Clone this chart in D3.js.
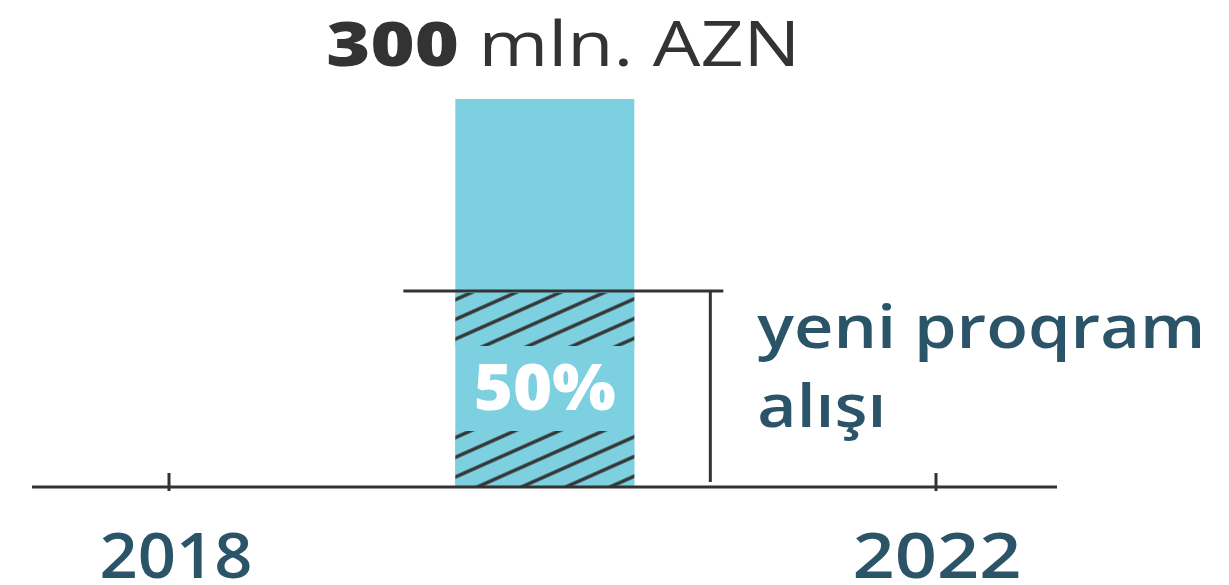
<!DOCTYPE html>
<html>
<head>
<meta charset="utf-8">
<script src="https://cdn.jsdelivr.net/npm/d3@7"></script>
<style>
  html, body { margin: 0; padding: 0; background: #fff; }
  svg { display: block; }
  text { font-family: "Open Sans", sans-serif; }
</style>
</head>
<body>
<svg id="chart" width="1229" height="585"></svg>
<script>
// ---- data ----
const years = [2018, 2022];            // axis tick labels
const barYears = [2019.96];            // bar position on the year axis
const barValues = [300];               // mln AZN
const shareValues = [150];             // part for "yeni proqram alışı" (50%)
const titleBold = ["300"];
const titleRest = [" mln. AZN"];
const shareLabels = ["50%"];
const noteLines = ["yeni proqram", "alışı"];

const svg = d3.select("#chart");

const x = d3.scaleLinear().domain([2018, 2022]).range([169, 936]);
const y = d3.scaleLinear().domain([0, 300]).range([487, 99]);
const barW = 179;

const dark = "#333333";
const blue = "#7dd0e0";
const navy = "#2b5468";

// hatch pattern
const defs = svg.append("defs");
const pat = defs.append("pattern")
  .attr("id", "hatch")
  .attr("patternUnits", "userSpaceOnUse")
  .attr("width", 18).attr("height", 18)
  .attr("patternTransform", "rotate(-24)");
pat.append("rect").attr("width", 18).attr("height", 18).attr("fill", blue);
pat.append("line").attr("x1", 0).attr("x2", 18).attr("y1", 9).attr("y2", 9)
  .attr("stroke", dark).attr("stroke-width", 3.4);

// bars
svg.selectAll("rect.bar").data(barValues).join("rect")
  .attr("class", "bar")
  .attr("x", (d, i) => x(barYears[i]) - barW / 2)
  .attr("y", d => y(d))
  .attr("width", barW)
  .attr("height", d => y(0) - y(d))
  .attr("fill", blue);

// hatched share (two bands, gap for label)
shareValues.forEach((v, i) => {
  const cx = x(barYears[i]);
  const x0 = cx - barW / 2;
  const top = y(v), bot = y(0);
  const gapTop = top + 53, gapBot = bot - 56;
  svg.append("rect").attr("x", x0).attr("y", top).attr("width", barW)
    .attr("height", gapTop - top).attr("fill", "url(#hatch)");
  svg.append("rect").attr("x", x0).attr("y", gapBot).attr("width", barW)
    .attr("height", bot - gapBot).attr("fill", "url(#hatch)");
  svg.append("text")
    .attr("x", cx - 71).attr("y", 410)
    .attr("font-size", 64).attr("font-weight", 800)
    .attr("textLength", 142).attr("lengthAdjust", "spacingAndGlyphs")
    .attr("fill", "#fff")
    .text(shareLabels[i]);

  // bracket lines
  svg.append("line").attr("x1", x0 - 52).attr("x2", x0 + 268)
    .attr("y1", top - 2).attr("y2", top - 2)
    .attr("stroke", dark).attr("stroke-width", 3);
  svg.append("line").attr("x1", x0 + 255).attr("x2", x0 + 255)
    .attr("y1", top - 2).attr("y2", bot - 5)
    .attr("stroke", dark).attr("stroke-width", 3);

  // note
  const widths = [448, 129];
  svg.selectAll("text.note").data(noteLines).join("text")
    .attr("class", "note")
    .attr("x", x0 + 302).attr("y", (d, j) => 348 + j * 79)
    .attr("font-size", 60).attr("font-weight", 600)
    .attr("textLength", (d, j) => widths[j]).attr("lengthAdjust", "spacingAndGlyphs")
    .attr("fill", navy)
    .text(d => d);

  // title
  const t = svg.append("text")
    .attr("x", x0 - 129).attr("y", 66)
    .attr("font-size", 62)
    .attr("textLength", 474).attr("lengthAdjust", "spacingAndGlyphs")
    .attr("fill", dark);
  t.append("tspan").attr("font-weight", 800).text(titleBold[0]);
  t.append("tspan").attr("font-weight", 500).text(titleRest[0]);
});

// baseline axis
svg.append("line").attr("x1", 32).attr("x2", 1057)
  .attr("y1", y(0)).attr("y2", y(0))
  .attr("stroke", dark).attr("stroke-width", 3);

svg.selectAll("line.tick").data(years).join("line")
  .attr("class", "tick")
  .attr("x1", d => x(d)).attr("x2", d => x(d))
  .attr("y1", y(0) - 14).attr("y2", y(0) + 4)
  .attr("stroke", dark).attr("stroke-width", 3);

const yearW = [153, 169];
svg.selectAll("text.year").data(years).join("text")
  .attr("class", "year")
  .attr("x", (d, i) => x(d) + (i === 0 ? 7 : 1) - yearW[i] / 2).attr("y", 578)
  .attr("font-size", 64).attr("font-weight", 600)
  .attr("textLength", (d, i) => yearW[i]).attr("lengthAdjust", "spacingAndGlyphs")
  .attr("fill", navy)
  .text(d => d);
</script>
</body>
</html>
